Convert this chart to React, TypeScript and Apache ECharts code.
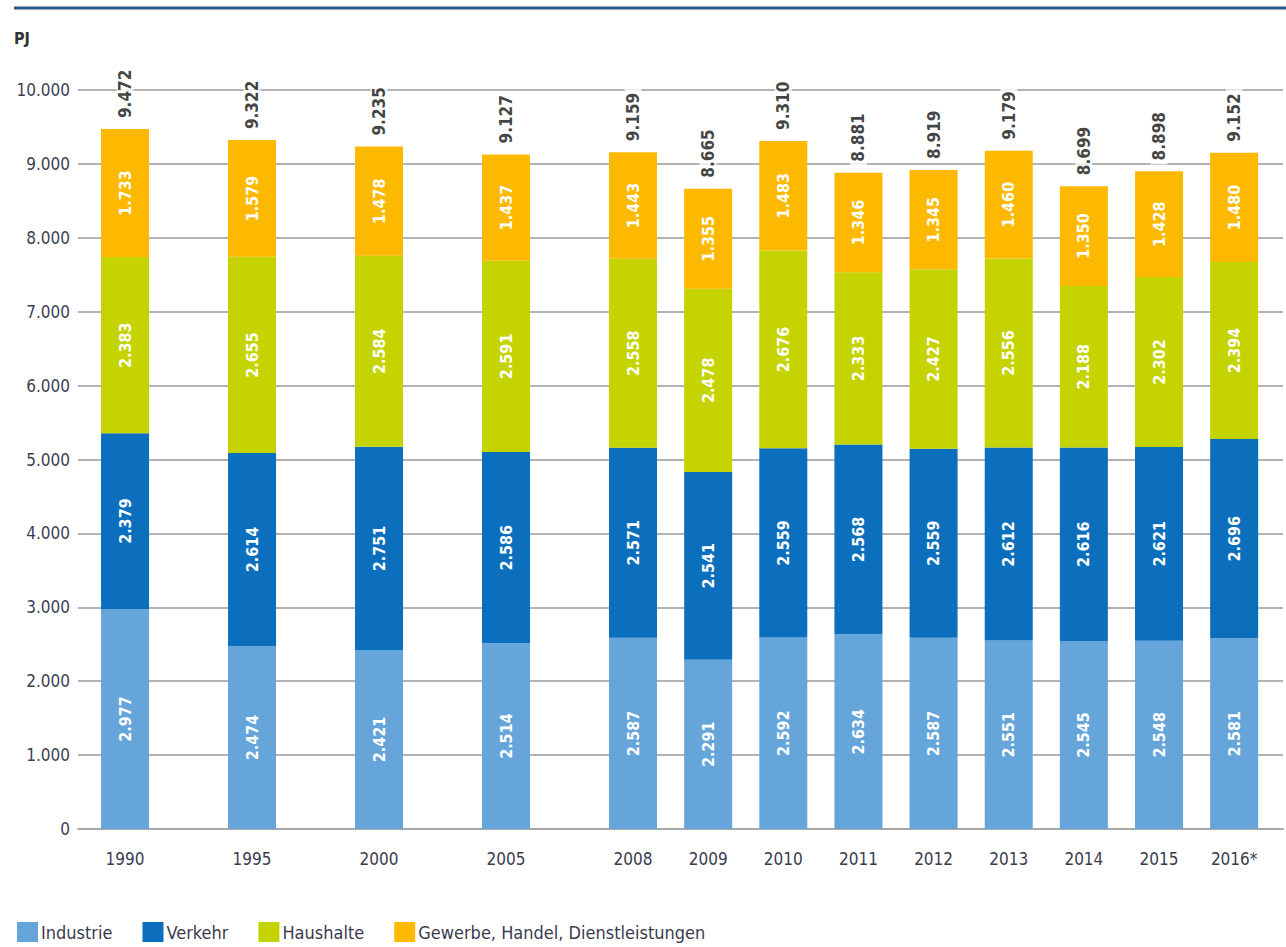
import React, { useEffect, useRef } from "react";
import * as echarts from "echarts";

const years = ["1990", "1995", "2000", "2005", "2008", "2009", "2010", "2011", "2012", "2013", "2014", "2015", "2016*"];
const industrie = [2977, 2474, 2421, 2514, 2587, 2291, 2592, 2634, 2587, 2551, 2545, 2548, 2581];
const verkehr = [2379, 2614, 2751, 2586, 2571, 2541, 2559, 2568, 2559, 2612, 2616, 2621, 2696];
const haushalte = [2383, 2655, 2584, 2591, 2558, 2478, 2676, 2333, 2427, 2556, 2188, 2302, 2394];
const gewerbe = [1733, 1579, 1478, 1437, 1443, 1355, 1483, 1346, 1345, 1460, 1350, 1428, 1480];
const totals = [9472, 9322, 9235, 9127, 9159, 8665, 9310, 8881, 8919, 9179, 8699, 8898, 9152];
const seriesNames = ["Industrie", "Verkehr", "Haushalte", "Gewerbe, Handel, Dienstleistungen"];
const yTicks = [0, 1000, 2000, 3000, 4000, 5000, 6000, 7000, 8000, 9000, 10000];

const COLORS = ["#65a5da", "#0b6fbd", "#c5d300", "#fdb900"];
const FONT = "'DejaVu Sans Condensed', 'Liberation Sans Narrow', 'DejaVu Sans', sans-serif";
const WIDE_STEP = 1.69;

const fmt = (v: number) => {
  const s = String(Math.round(v));
  return s.replace(/\B(?=(\d{3})+(?!\d))/g, ".");
};

export default function App() {
  const ref = useRef<HTMLDivElement>(null);
  useEffect(() => {
    if (!ref.current) return;
    const chart = echarts.init(ref.current, null, { renderer: "svg" });

    // x positions derived from the year sequence (wider gap for 5-year steps)
    const pos: number[] = [];
    years.forEach((y, i) => {
      if (i === 0) pos.push(0);
      else {
        const d = parseInt(y) - parseInt(years[i - 1]);
        pos.push(pos[i - 1] + (d > 1 ? WIDE_STEP : 1));
      }
    });
    const labelFor = (v: number) => {
      let best = 0;
      pos.forEach((p, i) => {
        if (Math.abs(p - v) < Math.abs(pos[best] - v)) best = i;
      });
      return years[best];
    };

    const seriesData = [industrie, verkehr, haushalte, gewerbe];
    const barSeries = seriesData.map((arr, k) => ({
      name: seriesNames[k],
      type: "bar",
      stack: "total",
      barWidth: 48,
      itemStyle: { color: COLORS[k] },
      // value first so that the stack is applied to the value (y) dimension
      data: arr.map((v, i) => [v, pos[i]]),
      encode: { x: 1, y: 0 },
      label: {
        show: true,
        position: "inside",
        rotate: 90,
        color: "#ffffff",
        fontFamily: FONT,
        fontWeight: "bold",
        fontSize: 16,
        formatter: (p: any) => fmt(p.value[0]),
      },
    }));

    chart.setOption({
      animation: false,
      backgroundColor: "#ffffff",
      graphic: [
        {
          type: "line",
          shape: { x1: 14, y1: 8, x2: 1286, y2: 8 },
          style: { stroke: "#2c5a85", lineWidth: 3 },
        },
        {
          type: "text",
          left: 14,
          top: 30,
          style: { text: "PJ", fill: "#333333", font: `bold 16px ${FONT}` },
        },
      ],
      legend: {
        data: seriesNames,
        left: 12,
        top: 917,
        itemWidth: 21,
        itemHeight: 20,
        itemGap: 30,
        icon: "rect",
        textStyle: { fontFamily: FONT, fontSize: 18, color: "#3b3b4e", padding: [0, 0, 0, -2] },
      },
      grid: { left: 78, right: 3, top: 90, height: 739 },
      xAxis: {
        type: "value",
        min: -0.626,
        max: 15.41,
        axisLine: { show: true, onZero: false, lineStyle: { color: "#a8a8a8", width: 2 } },
        axisTick: { show: false },
        splitLine: { show: false },
        axisLabel: {
          customValues: pos,
          formatter: (v: number) => labelFor(v),
          margin: 21,
          fontFamily: FONT,
          fontSize: 17,
          color: "#3b3b4e",
        },
      },
      yAxis: {
        type: "value",
        min: 0,
        max: 10000,
        interval: 1000,
        axisLine: { show: false },
        axisTick: { show: false },
        splitLine: { show: true, lineStyle: { color: "#b3b3b3", width: 2 } },
        axisLabel: {
          customValues: yTicks,
          formatter: (v: number) => fmt(v),
          margin: 8,
          fontFamily: FONT,
          fontSize: 17,
          color: "#3b3f55",
        },
      },
      series: [
        ...barSeries,
        {
          name: "Summe",
          type: "scatter",
          symbolSize: 0,
          z: 5,
          data: totals.map((v, i) => [pos[i], v]),
          label: {
            show: true,
            position: "top",
            distance: 7,
            rotate: 90,
            align: "left",
            verticalAlign: "middle",
            color: "#111111",
            fontFamily: FONT,
            fontWeight: "bold",
            fontSize: 17,
            backgroundColor: "#ffffff",
            padding: [0, 4, 0, 4],
            formatter: (p: any) => fmt(p.value[1]),
          },
        },
      ],
    });
    return () => chart.dispose();
  }, []);

  return (
    <div
      ref={ref}
      style={{ position: "absolute", left: 0, top: 0, width: 1286, height: 947 }}
    />
  );
}
